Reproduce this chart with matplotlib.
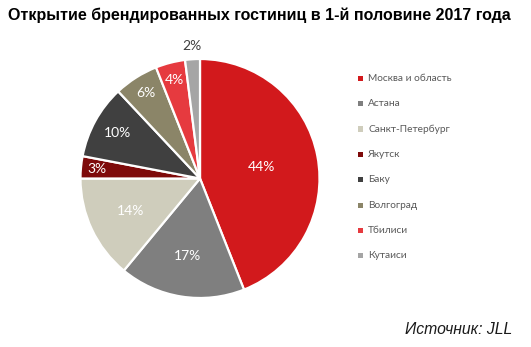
import numpy as np
import matplotlib.pyplot as plt
from matplotlib.patches import Rectangle

cities = ["Москва и область", "Астана", "Санкт-Петербург", "Якутск",
          "Баку", "Волгоград", "Тбилиси", "Кутаиси"]
shares = [44, 17, 14, 3, 10, 6, 4, 2]
colors = ["#D2191C", "#7F7F7F", "#CFCDBC", "#7E0A0A",
          "#404040", "#8B8568", "#E63A3F", "#A5A5A5"]
label_dist = [0.52, 0.66, 0.64, 0.87, 0.79, 0.85, 0.85, 1.11]
label_colors = ["white"] * 7 + ["#404040"]

W, H = 531, 347
fig = plt.figure(figsize=(W / 100, H / 100), dpi=100)
fig.patch.set_facecolor("white")

cx, cy, r = 200.0, 178.5, 119.5
ax = fig.add_axes([(cx - r) / W, (H - cy - r) / H, 2 * r / W, 2 * r / H])
wedges, _ = ax.pie(shares, colors=colors, startangle=90, counterclock=False,
                   radius=1.0, wedgeprops=dict(edgecolor="white", linewidth=1.6))
ax.set_xlim(-1, 1)
ax.set_ylim(-1, 1)
ax.set_aspect("equal")
ax.axis("off")

for w, v, d, c in zip(wedges, shares, label_dist, label_colors):
    ang = np.deg2rad((w.theta1 + w.theta2) / 2)
    ax.text(d * np.cos(ang), d * np.sin(ang), f"{v}%", ha="center", va="center",
            color=c, fontsize=10, family="Lato", clip_on=False)

fig.text(8 / W, 1 - 15 / H, "Открытие брендированных гостиниц в 1-й половине 2017 года",
         ha="left", va="center", fontsize=11.5, fontweight="bold",
         family="Liberation Sans", color="black")

row0, step = 78.3, 25.35
for i, (name, col) in enumerate(zip(cities, colors)):
    y = row0 + i * step
    fig.patches.append(Rectangle(((360.7 - 2.5) / W, 1 - (y + 2.5) / H), 5 / W, 5 / H,
                                 transform=fig.transFigure, facecolor=col,
                                 edgecolor="none"))
    fig.text(368.3 / W, 1 - y / H, name, ha="left", va="center", fontsize=7.3,
             family="Lato", color="#595959")

fig.text(512 / W, 1 - 330 / H, "Источник: JLL", ha="right", va="center",
         fontsize=11.3, style="italic", family="Liberation Sans", color="#1a1a1a")

fig.savefig("out.png", dpi=100, facecolor="white")
